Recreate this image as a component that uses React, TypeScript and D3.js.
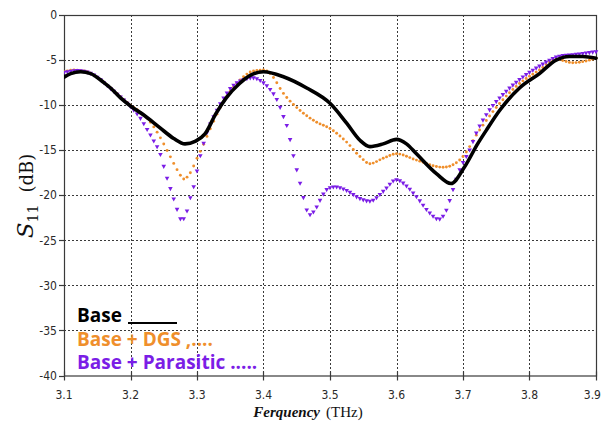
import React, { useEffect, useRef } from "react";
import * as d3 from "d3";

// Frequency axis (THz) and S11 axis (dB)
const xTicks = [3.1, 3.2, 3.3, 3.4, 3.5, 3.6, 3.7, 3.8, 3.9];
const yTicks = [0, -5, -10, -15, -20, -25, -30, -35, -40];

// Base antenna
const freqBase = [3.1, 3.11, 3.125, 3.14, 3.16, 3.17, 3.185, 3.2, 3.22, 3.244, 3.265, 3.282, 3.298, 3.312, 3.328, 3.344, 3.364, 3.38, 3.4, 3.43, 3.465, 3.5, 3.525, 3.545, 3.56, 3.58, 3.6, 3.615, 3.63, 3.66, 3.682, 3.702, 3.722, 3.735, 3.755, 3.785, 3.815, 3.84, 3.86, 3.88, 3.9];
const s11Base = [-6.9, -6.5, -6.3, -6.5, -7.5, -8.1, -9.2, -10.1, -11.1, -12.5, -13.7, -14.3, -14.0, -13.2, -11.0, -9.2, -7.6, -6.7, -6.3, -6.85, -8.1, -9.8, -12.0, -13.9, -14.6, -14.3, -13.8, -14.3, -15.4, -17.6, -18.7, -16.9, -14.3, -12.8, -10.6, -8.1, -6.5, -5.0, -4.6, -4.6, -4.8];

// Base + DGS
const freqDgs = [3.1, 3.115, 3.13, 3.15, 3.17, 3.2, 3.215, 3.229, 3.244, 3.259, 3.272, 3.28, 3.29, 3.3, 3.309, 3.316, 3.33, 3.345, 3.365, 3.385, 3.4, 3.41, 3.43, 3.455, 3.48, 3.5, 3.525, 3.545, 3.56, 3.58, 3.6, 3.63, 3.67, 3.69, 3.7, 3.722, 3.735, 3.785, 3.815, 3.84, 3.865, 3.885, 3.9];
const s11Dgs = [-6.3, -6.1, -6.2, -6.9, -8.1, -10.0, -10.8, -11.8, -13.5, -15.6, -17.4, -18.2, -17.5, -15.9, -14.5, -13.3, -11.0, -9.0, -7.2, -6.2, -6.1, -6.5, -8.7, -10.6, -11.9, -12.6, -14.1, -15.7, -16.5, -15.9, -15.4, -16.1, -16.9, -16.4, -15.7, -13.1, -11.7, -7.6, -6.1, -4.9, -5.3, -5.1, -4.8];

// Base + Parasitic
const freqPar = [3.1, 3.12, 3.14, 3.17, 3.2, 3.215, 3.224, 3.235, 3.244, 3.254, 3.264, 3.27, 3.277, 3.284, 3.29, 3.296, 3.302, 3.314, 3.33, 3.35, 3.37, 3.385, 3.395, 3.41, 3.42, 3.43, 3.437, 3.442, 3.447, 3.452, 3.457, 3.462, 3.469, 3.477, 3.485, 3.495, 3.507, 3.525, 3.545, 3.56, 3.58, 3.6, 3.615, 3.63, 3.65, 3.663, 3.675, 3.685, 3.695, 3.71, 3.722, 3.735, 3.765, 3.785, 3.815, 3.845, 3.87, 3.9];
const s11Par = [-6.4, -6.2, -6.5, -8.2, -10.2, -11.5, -12.6, -14.0, -15.3, -17.9, -20.2, -21.6, -22.8, -22.0, -20.3, -18.8, -16.6, -13.3, -10.6, -8.2, -7.2, -7.0, -7.3, -8.3, -9.4, -11.3, -12.8, -14.6, -16.3, -17.8, -19.3, -20.9, -22.2, -21.7, -20.6, -19.4, -19.1, -19.5, -20.4, -20.7, -19.6, -18.3, -19.0, -20.2, -22.0, -22.7, -21.7, -19.4, -17.2, -15.0, -12.8, -11.1, -8.5, -7.2, -5.7, -4.6, -4.4, -4.1];

const W = 602;
const H = 421;
const X0 = 64;
const X1 = 596;
const Y0 = 15;
const Y1 = 375.5;
const SAMPLE_STEP = 0.005;

const C_BASE = "#000000";
const C_DGS = "#ef8f2c";
const C_PAR = "#7b1de6";
const C_AXIS = "#3a3a3a";

export default function App() {
  const ref = useRef<SVGSVGElement | null>(null);

  useEffect(() => {
    const svg = d3.select(ref.current);
    svg.selectAll("*").remove();

    const x = d3.scaleLinear().domain([3.1, 3.9]).range([X0, X1]);
    const y = d3.scaleLinear().domain([-40, 0]).range([Y1, Y0]);

    svg.append("rect").attr("width", W).attr("height", H).attr("fill", "#fff");

    // dotted grid
    const grid = svg.append("g").attr("stroke", C_AXIS).attr("stroke-width", 1).attr("stroke-dasharray", "2,2");
    grid.selectAll("line.gx").data(xTicks.slice(1, -1)).join("line")
      .attr("x1", (d) => Math.round(x(d)) + 0.5).attr("x2", (d) => Math.round(x(d)) + 0.5)
      .attr("y1", Y0).attr("y2", Y1);
    grid.selectAll("line.gy").data(yTicks.slice(1, -1)).join("line")
      .attr("y1", (d) => Math.round(y(d)) + 0.5).attr("y2", (d) => Math.round(y(d)) + 0.5)
      .attr("x1", X0).attr("x2", X1);

    // frame
    svg.append("rect").attr("x", X0 + 0.5).attr("y", Y0 + 0.5)
      .attr("width", X1 - X0).attr("height", Y1 - Y0)
      .attr("fill", "none").attr("stroke", C_AXIS).attr("stroke-width", 1.2);

    // ticks
    const ticks = svg.append("g").attr("stroke", C_AXIS).attr("stroke-width", 1.2);
    ticks.selectAll("line.ty").data(yTicks).join("line")
      .attr("x1", X0 - 5).attr("x2", X0)
      .attr("y1", (d) => Math.round(y(d)) + 0.5).attr("y2", (d) => Math.round(y(d)) + 0.5);
    ticks.selectAll("line.tx").data(xTicks).join("line")
      .attr("x1", (d) => Math.round(x(d)) + 0.5).attr("x2", (d) => Math.round(x(d)) + 0.5)
      .attr("y1", Y1 - 4).attr("y2", Y1 + 5);

    const tickFont = "'DejaVu Sans Condensed', 'DejaVu Sans', sans-serif";
    svg.append("g").selectAll("text").data(yTicks).join("text")
      .attr("x", X0 - 7).attr("y", (d) => y(d)).attr("dy", "0.35em")
      .attr("text-anchor", "end").attr("font-family", tickFont).attr("font-size", 12)
      .attr("fill", "#2a2a2a")
      .text((d) => String(d));
    // the last label is pulled in so it stays on the page
    svg.append("g").selectAll("text").data(xTicks).join("text")
      .attr("x", (d, i) => (i === xTicks.length - 1 ? W - 1 : x(d)))
      .attr("y", 399)
      .attr("text-anchor", (d, i) => (i === xTicks.length - 1 ? "end" : "middle"))
      .attr("font-family", tickFont).attr("font-size", 12)
      .attr("fill", "#2a2a2a")
      .text((d) => d.toFixed(1));

    // axis titles
    const xt = svg.append("text").attr("x", 308).attr("y", 416.5).attr("text-anchor", "middle")
      .attr("font-family", "'Liberation Serif', serif").attr("font-size", 15).attr("fill", "#111");
    xt.append("tspan").attr("font-weight", "bold").attr("font-style", "italic").text("Ferquency");
    xt.append("tspan").attr("dx", 6).text("(THz)");

    const yt = svg.append("text").attr("transform", "translate(33,196) rotate(-90)")
      .attr("text-anchor", "middle").attr("font-family", "'DejaVu Serif', serif").attr("fill", "#111");
    yt.append("tspan").attr("font-style", "italic").attr("font-size", 23).text("S");
    yt.append("tspan").attr("font-size", 14).attr("dy", 5).text("11");
    yt.append("tspan").attr("font-size", 18).attr("dy", -5).attr("dx", 12).text("(dB)");

    const clip = svg.append("defs").append("clipPath").attr("id", "plotclip");
    clip.append("rect").attr("x", X0).attr("y", Y0 - 4).attr("width", X1 - X0 + 4).attr("height", Y1 - Y0 + 4);

    const line = d3.line<[number, number]>()
      .x((d) => x(d[0])).y((d) => y(d[1]))
      .curve(d3.curveMonotoneX);

    const plot = svg.append("g").attr("clip-path", "url(#plotclip)");

    // sample a drawn curve at evenly spaced frequencies
    const sampleOnPath = (el: SVGPathElement) => {
      const total = el.getTotalLength();
      const pts: { x: number; y: number }[] = [];
      const n = Math.round((3.9 - 3.1) / SAMPLE_STEP);
      for (let i = 0; i <= n; i++) {
        const tx = x(3.1 + i * SAMPLE_STEP);
        let lo = 0;
        let hi = total;
        for (let k = 0; k < 28; k++) {
          const mid = (lo + hi) / 2;
          if (el.getPointAtLength(mid).x < tx) lo = mid;
          else hi = mid;
        }
        const p = el.getPointAtLength((lo + hi) / 2);
        pts.push({ x: p.x, y: p.y });
      }
      return pts;
    };

    const drawMarkers = (fs: number[], vs: number[], kind: "dot" | "tri", color: string) => {
      const data = fs.map((f, i) => [f, vs[i]] as [number, number]);
      const guide = plot.append("path").attr("d", line(data) ?? "").attr("fill", "none").attr("stroke", "none");
      const pts = sampleOnPath(guide.node() as SVGPathElement);
      guide.remove();
      const g = plot.append("g").attr("fill", color);
      if (kind === "dot") {
        g.selectAll("circle").data(pts).join("circle")
          .attr("cx", (d) => d.x).attr("cy", (d) => d.y).attr("r", 1.45);
      } else {
        g.selectAll("path").data(pts).join("path")
          .attr("transform", (d) => `translate(${d.x},${d.y})`)
          .attr("d", "M-2.3,-1.8L2.3,-1.8L0,2.3Z");
      }
    };

    drawMarkers(freqDgs, s11Dgs, "dot", C_DGS);
    drawMarkers(freqPar, s11Par, "tri", C_PAR);

    const baseData = freqBase.map((f, i) => [f, s11Base[i]] as [number, number]);
    plot.append("path").attr("d", line(baseData) ?? "")
      .attr("fill", "none").attr("stroke", C_BASE).attr("stroke-width", 3.6)
      .attr("stroke-linejoin", "round").attr("stroke-linecap", "round");

    // legend
    const lf = "'Open Sans', sans-serif";
    svg.append("text").attr("x", 77).attr("y", 322).attr("font-family", lf).attr("font-weight", 700)
      .attr("font-size", 19).attr("fill", C_BASE).text("Base");
    svg.append("line").attr("x1", 128).attr("x2", 177).attr("y1", 323).attr("y2", 323)
      .attr("stroke", C_BASE).attr("stroke-width", 2);
    svg.append("text").attr("x", 77).attr("y", 345.5).attr("font-family", lf).attr("font-weight", 700)
      .attr("font-size", 19).attr("fill", C_DGS).text("Base + DGS ,....");
    svg.append("text").attr("x", 77).attr("y", 369).attr("font-family", lf).attr("font-weight", 700)
      .attr("font-size", 19).attr("fill", C_PAR).text("Base + Parasitic .....");
  }, []);

  return (
    <svg
      ref={ref}
      width={W}
      height={H}
      style={{ position: "absolute", left: 0, top: 0, display: "block" }}
    />
  );
}
